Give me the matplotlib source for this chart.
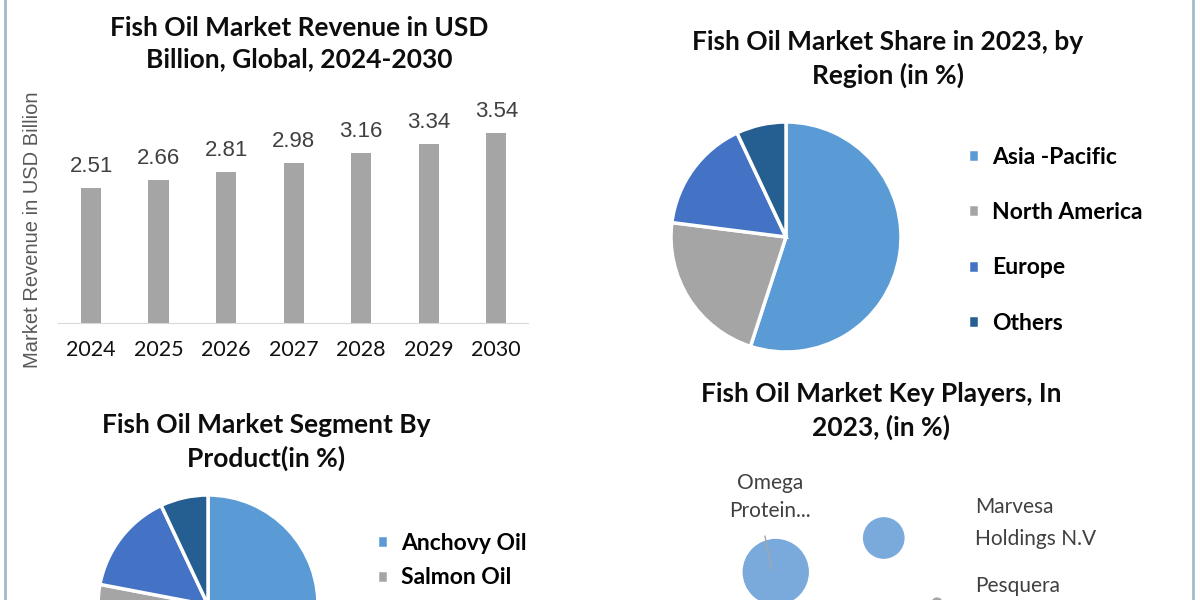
import matplotlib
matplotlib.use("Agg")
import matplotlib.pyplot as plt
from matplotlib.lines import Line2D

W, H = 1200, 600

# revenue panel
years = ["2024", "2025", "2026", "2027", "2028", "2029", "2030"]
revenue = [2.51, 2.66, 2.81, 2.98, 3.16, 3.34, 3.54]

# region share panel
regions = ["Asia -Pacific", "North America", "Europe", "Others"]
region_share = [55, 22, 16, 7]

# product segment panel (only first two labels visible in the crop)
products = ["Anchovy Oil", "Salmon Oil", "Menhaden Oil", "Others"]
product_share = [52, 26, 15, 7]

# key players panel
players = ["Omega\nProtein...", "Marvesa\nHoldings N.V", "Pesquera"]
player_x = [1.01, 2.45, 3.16]
player_y = [2.8, 6.2, -0.3]
player_share = [13, 5, 0.3]

pie_colors = ["#5B9BD5", "#A5A5A5", "#4472C4", "#255E91"]
title_font = "Lato"


def px_box(x0, y0, x1, y1):
    # pixel box (top-left origin) -> figure fraction rect
    return [x0 / W, 1 - y1 / H, (x1 - x0) / W, (y1 - y0) / H]


def fig_title(fig, x, y, text, size=19, spacing=1.35):
    fig.text(x / W, 1 - y / H, text, ha="center", va="center", fontsize=size,
             fontweight="bold", family=title_font, color="#0d0d0d",
             linespacing=spacing)


fig = plt.figure(figsize=(12, 6), dpi=100)
fig.patch.set_facecolor("white")

# frame lines at the left/right edges
for xp in (5, 1193):
    fig.add_artist(Line2D([xp / W, xp / W], [0, 1], color="#9FBCCB", lw=2))

# ---- bar chart
ax1 = fig.add_axes(px_box(58, 100, 528, 323))
xs = range(len(years))
bars = ax1.bar(xs, revenue, width=0.30, color="#A5A5A5")
for b, v in zip(bars, revenue):
    ax1.annotate(f"{v:.2f}", (b.get_x() + b.get_width() / 2, v),
                 xytext=(0, 8), textcoords="offset points", ha="center",
                 va="bottom", fontsize=16, color="#404040",
                 family="Liberation Sans")
ax1.set_xlim(-0.49, 6.47)
ax1.set_ylim(0, 223 / 53.7)
ax1.set_xticks(list(xs))
ax1.set_xticklabels(years, fontsize=15.5, family="Lato", color="#111111")
ax1.tick_params(axis="x", length=0, pad=12)
ax1.set_yticks([])
for s in ("top", "right", "left"):
    ax1.spines[s].set_visible(False)
ax1.spines["bottom"].set_color("#D9D9D9")
fig.text(33 / W, 1 - 230 / H, "Market Revenue in USD Billion", rotation=90,
         ha="center", va="center", fontsize=14.5, color="#595959",
         family="Liberation Sans")
fig_title(fig, 299, 44, "Fish Oil Market Revenue in USD\nBillion, Global, 2024-2030",
          size=19)

# ---- region pie
ax2 = fig.add_axes(px_box(671, 122, 901, 352))
w2, _ = ax2.pie(region_share, colors=pie_colors, startangle=90,
                counterclock=False,
                wedgeprops=dict(edgecolor="white", linewidth=2.5))
ax2.set_xlim(-1, 1)
ax2.set_ylim(-1, 1)
ax2.set_aspect("equal")
ax2.legend(w2, regions, loc="upper left", bbox_to_anchor=(947 / W, 1 - 126 / H),
           bbox_transform=fig.transFigure, frameon=False, handlelength=0.5,
           handleheight=0.5, handletextpad=0.55, labelspacing=1.5,
           prop=dict(family=title_font, weight="bold", size=16.5))
fig_title(fig, 888, 59, "Fish Oil Market Share in 2023, by\nRegion (in %)",
          spacing=1.4)

# ---- product pie (mostly below the crop)
ax3 = fig.add_axes(px_box(98, 495, 318, 715))
w3, _ = ax3.pie(product_share, colors=pie_colors, startangle=90,
                counterclock=False,
                wedgeprops=dict(edgecolor="white", linewidth=2.5))
ax3.set_xlim(-1, 1)
ax3.set_ylim(-1, 1)
ax3.set_aspect("equal")
ax3.legend(w3[:2], products[:2], loc="upper left",
           bbox_to_anchor=(356 / W, 1 - 512 / H),
           bbox_transform=fig.transFigure, frameon=False, handlelength=0.5,
           handleheight=0.5, handletextpad=0.55, labelspacing=0.6,
           prop=dict(family=title_font, weight="bold", size=16.5))
fig_title(fig, 266, 442, "Fish Oil Market Segment By\nProduct(in %)", spacing=1.45)

# ---- key players bubbles
ax4 = fig.add_axes(px_box(700, 460, 1000, 600))
ax4.scatter(player_x, player_y, s=[v * 168 for v in player_share],
            color=["#7AAADC", "#7AAADC", "#A5A5A5"], clip_on=False, zorder=2)
ax4.set_xlim(0, 4)
ax4.set_ylim(0, 14)
ax4.axis("off")
lab = dict(fontsize=15, family="Lato", color="#404040", annotation_clip=False)
ax4.annotate(players[0], (player_x[0] - 0.04, player_y[0]), xytext=(-3, 75),
             textcoords="offset pixels", ha="center", va="center",
             linespacing=1.5,
             arrowprops=dict(arrowstyle="-", color="#A6A6A6", lw=1,
                             relpos=(0.4, 0), shrinkA=9, shrinkB=2), **lab)
ax4.annotate(players[1], (player_x[1], player_y[1]), xytext=(91, 15),
             textcoords="offset pixels", ha="left", va="center",
             linespacing=1.75, **lab)
ax4.annotate(players[2], (player_x[2], player_y[2]), xytext=(38, 17),
             textcoords="offset pixels", ha="left", va="center", **lab)
fig_title(fig, 881, 411, "Fish Oil Market Key Players, In\n2023, (in %)",
          spacing=1.4)

fig.savefig("out.png", dpi=100)
